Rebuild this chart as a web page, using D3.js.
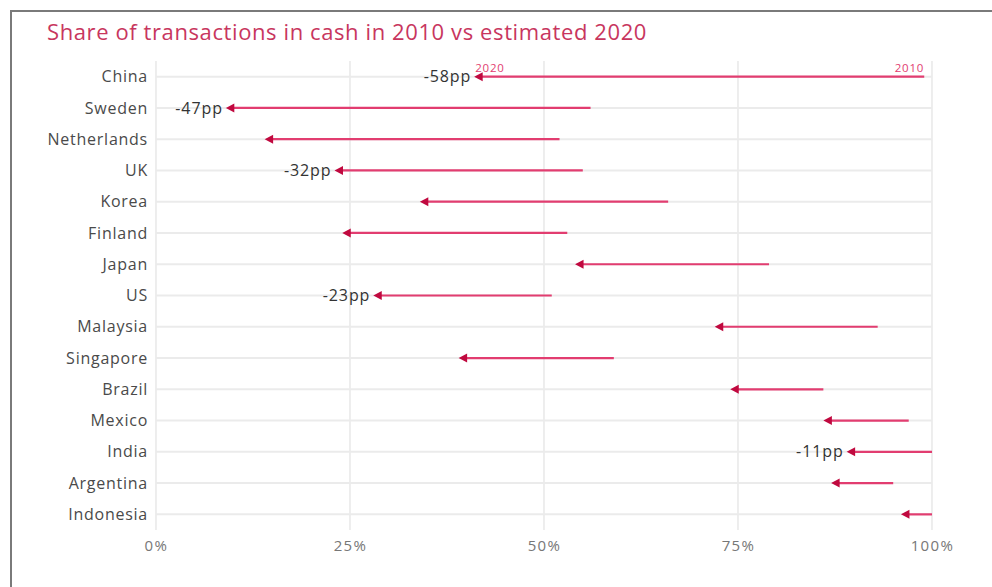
<!DOCTYPE html>
<html>
<head>
<meta charset="utf-8">
<script src="https://cdn.jsdelivr.net/npm/d3@7"></script>
<style>
  html, body { margin: 0; padding: 0; background: #fff; }
  svg { display: block; }
  text { font-family: "Open Sans", "Noto Sans", sans-serif; }
</style>
</head>
<body>
<script>
// Share of transactions paid in cash, per country (percent)
const countries = ["China", "Sweden", "Netherlands", "UK", "Korea", "Finland", "Japan", "US",
                   "Malaysia", "Singapore", "Brazil", "Mexico", "India", "Argentina", "Indonesia"];
const share2010 = [99, 56, 52, 55, 66, 53, 79, 51, 93, 59, 86, 97, 100, 95, 100];
const share2020 = [41, 9, 14, 23, 34, 24, 54, 28, 72, 39, 74, 86, 89, 87, 96];
const labelled = ["China", "Sweden", "UK", "US", "India"];
const xTicks = [0, 25, 50, 75, 100];
const title = "Share of transactions in cash in 2010 vs estimated 2020";

const W = 992, H = 587;
const plotLeft = 156, plotRight = 932, plotTop = 61, plotBottom = 530;
const lineColor = "#e23d70", headColor = "#c0093f";

const svg = d3.select("body").append("svg").attr("width", W).attr("height", H);

// outer frame
svg.append("path")
  .attr("d", `M11,${H + 5}V11H${W + 5}`)
  .attr("fill", "none").attr("stroke", "#7a7a7a").attr("stroke-width", 2);

svg.append("text")
  .attr("x", 47).attr("y", 40)
  .attr("font-size", 22).attr("letter-spacing", 0.6).attr("fill", "#c8365e")
  .text(title);

const x = d3.scaleLinear().domain([0, 100]).range([plotLeft, plotRight]);
const y = d3.scalePoint().domain(countries).range([plotTop, plotBottom]).padding(0.5);

const rows = countries.map((c, i) => ({ c, a: share2010[i], b: share2020[i] }));

// vertical grid
svg.append("g").selectAll("line").data(xTicks).join("line")
  .attr("x1", d => x(d)).attr("x2", d => x(d))
  .attr("y1", plotTop).attr("y2", plotBottom)
  .attr("stroke", "#e2e2e2").attr("stroke-width", 1.2);

// horizontal grid
svg.append("g").selectAll("line").data(countries).join("line")
  .attr("x1", plotLeft).attr("x2", plotRight)
  .attr("y1", d => y(d)).attr("y2", d => y(d))
  .attr("stroke", "#ebebeb").attr("stroke-width", 2);

// x axis labels
const xAxis = d3.axisBottom(x).tickValues(xTicks).tickFormat(d => d + "%").tickSize(0).tickPadding(0);
const gx = svg.append("g").attr("transform", `translate(0,${plotBottom + 8})`).call(xAxis);
gx.select(".domain").remove();
gx.selectAll("text").attr("font-size", 15).attr("letter-spacing", 1.4)
  .attr("fill", "#777").attr("dy", "0.85em")
  .style("font-family", "\"Open Sans\", sans-serif");

// y axis labels
const yAxis = d3.axisLeft(y).tickSize(0).tickPadding(0);
const gy = svg.append("g").attr("transform", `translate(${plotLeft - 8},0)`).call(yAxis);
gy.select(".domain").remove();
gy.selectAll("text").attr("font-size", 16).attr("letter-spacing", 0.75).attr("fill", "#4a4a4a")
  .style("font-family", "\"Open Sans\", sans-serif");

// change lines
svg.append("g").selectAll("line").data(rows).join("line")
  .attr("x1", d => x(d.a)).attr("x2", d => x(d.b) + 4)
  .attr("y1", d => y(d.c)).attr("y2", d => y(d.c))
  .attr("stroke", lineColor).attr("stroke-width", 2.2);

// arrowheads at the 2020 value
svg.append("g").selectAll("path").data(rows).join("path")
  .attr("d", d => {
    const tx = x(d.b), ty = y(d.c);
    return `M${tx},${ty}L${tx + 8.5},${ty - 4.5}L${tx + 8.5},${ty + 4.5}Z`;
  })
  .attr("fill", headColor);

// change labels
svg.append("g").selectAll("text").data(rows.filter(d => labelled.includes(d.c))).join("text")
  .attr("x", d => x(d.b) - 3).attr("y", d => y(d.c))
  .attr("dy", "0.35em").attr("text-anchor", "end")
  .attr("font-size", 16).attr("letter-spacing", 0.9).attr("fill", "#333")
  .text(d => `-${Math.round(d.a - d.b)}pp`);

// year annotations on the first row
const first = rows[0];
svg.append("text")
  .attr("x", x(first.b) + 1).attr("y", y(first.c) - 5)
  .attr("font-size", 11.5).attr("letter-spacing", 0.8).attr("fill", lineColor)
  .text("2020");
svg.append("text")
  .attr("x", x(first.a)).attr("y", y(first.c) - 5)
  .attr("text-anchor", "end")
  .attr("font-size", 11.5).attr("letter-spacing", 0.8).attr("fill", lineColor)
  .text("2010");
</script>
</body>
</html>
